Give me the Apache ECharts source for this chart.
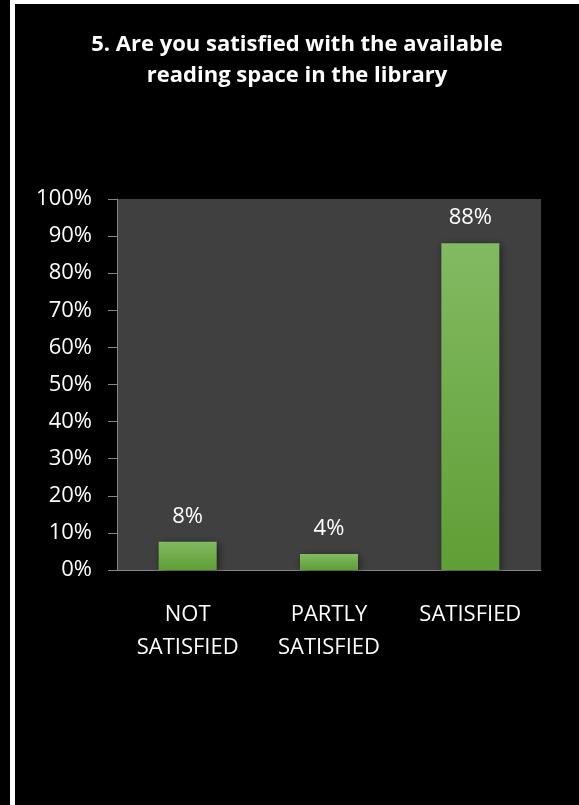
<!DOCTYPE html>
<html>
<head>
<meta charset="utf-8">
<script src="https://cdn.jsdelivr.net/npm/echarts@6/dist/echarts.min.js"></script>
<style>
html,body{margin:0;padding:0;background:#000;}
#c{width:579px;height:805px;}
</style>
</head>
<body>
<div id="c"></div>
<script>
var titleLines = ['5. Are you satisfied with the available', 'reading space in the library'];
var categories = ['NOT\nSATISFIED', 'PARTLY\nSATISFIED', 'SATISFIED'];
var values = [7.6, 4.3, 88.1];
var valueLabels = ['8%', '4%', '88%'];
var yMin = 0, yMax = 100, yStep = 10;

var chart = echarts.init(document.getElementById('c'), null, {renderer: 'canvas'});
var font = '"Open Sans", sans-serif';
chart.setOption({
  backgroundColor: '#000',
  animation: false,
  title: {
    text: titleLines.join('\n'),
    left: 292, top: 24, textAlign: 'center',
    textStyle: {color: '#fff', fontFamily: font, fontWeight: 'bold', fontSize: 22, lineHeight: 31}
  },
  graphic: [
    {type: 'rect', shape: {x: 10, y: 0, width: 5, height: 805}, style: {fill: '#fff'}},
    {type: 'rect', shape: {x: 15, y: 0, width: 564, height: 4}, style: {fill: '#fff'}}
  ],
  grid: {left: 117, right: 38, top: 199, bottom: 235, show: true, backgroundColor: '#404040', borderWidth: 0},
  xAxis: {
    type: 'category', data: categories,
    axisLine: {lineStyle: {color: '#868686', width: 1}},
    axisTick: {show: false},
    axisLabel: {color: '#fff', fontFamily: font, fontSize: 22, lineHeight: 33, margin: 28, interval: 0}
  },
  yAxis: {
    type: 'value', min: yMin, max: yMax, interval: yStep,
    axisLine: {show: true, lineStyle: {color: '#868686', width: 1}},
    axisTick: {show: true, length: 9, lineStyle: {color: '#868686'}},
    splitLine: {show: false},
    axisLabel: {color: '#fff', fontFamily: font, fontSize: 22, margin: 25, formatter: '{value}%'}
  },
  series: [{
    type: 'bar', data: values, barWidth: 58,
    itemStyle: {
      color: new echarts.graphic.LinearGradient(0, 0, 0, 1, [
        {offset: 0, color: '#82ba62'}, {offset: 1, color: '#5f9f35'}
      ]),
      shadowColor: 'rgba(0,0,0,0.5)', shadowBlur: 8, shadowOffsetX: 2, shadowOffsetY: 2
    },
    label: {
      show: true, position: 'top', distance: 14, color: '#fff', fontFamily: font, fontSize: 22,
      formatter: function (p) { return valueLabels[p.dataIndex]; }
    }
  }]
});
</script>
</body>
</html>
